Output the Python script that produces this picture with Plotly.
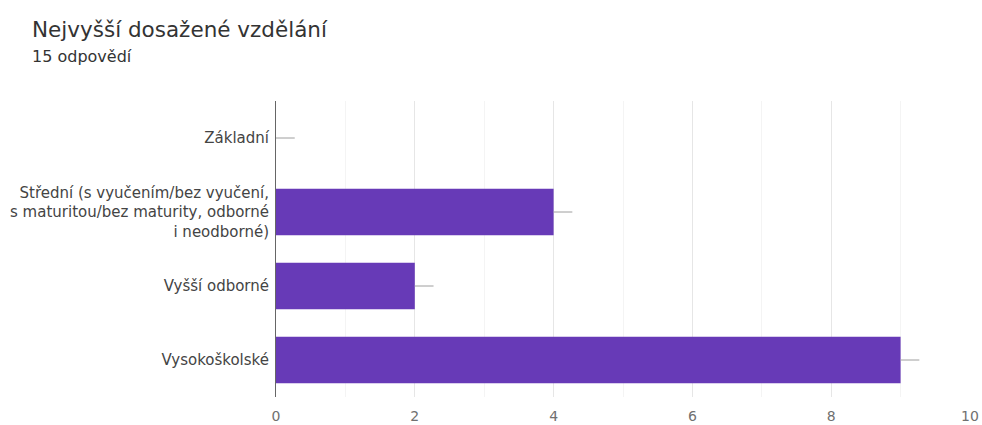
import plotly.graph_objects as go

categories = [
    "Základní",
    "Střední (s vyučením/bez vyučení,<br>s maturitou/bez maturity, odborné<br>i neodborné)",
    "Vyšší odborné",
    "Vysokoškolské",
]
counts = [0, 4, 2, 9]
tick_values = [0, 2, 4, 6, 8, 10]

FONT = "DejaVu Sans, Arial, sans-serif"
W, H = 982, 425
L, R, T, B = 276, 12, 101, 28
PW, PH = W - L - R, H - T - B

fig = go.Figure()
fig.add_trace(go.Bar(
    y=categories,
    x=counts,
    orientation="h",
    marker=dict(color="#673ab7", line=dict(width=0)),
    error_x=dict(type="data", symmetric=False, array=[0.27] * len(counts),
                 arrayminus=[0] * len(counts), width=0, thickness=1, color="#9e9e9e"),
    hoverinfo="x+y",
))

fig.update_layout(
    width=W, height=H,
    margin=dict(l=L, r=R, t=T, b=B, autoexpand=False),
    paper_bgcolor="white", plot_bgcolor="white",
    bargap=0.37,
    showlegend=False,
    font=dict(family=FONT, size=15, color="#444"),
    annotations=[
        dict(text="Nejvyšší dosažené vzdělání", xref="paper", yref="paper",
             x=(30 - L) / PW, y=1 + (T - 29) / PH, xanchor="left", yanchor="middle",
             showarrow=False, font=dict(size=21.5, color="#333", family=FONT)),
        dict(text="15 odpovědí", xref="paper", yref="paper",
             x=(30 - L) / PW, y=1 + (T - 57) / PH, xanchor="left", yanchor="middle",
             showarrow=False, font=dict(size=16, color="#333", family=FONT)),
    ],
)
fig.update_xaxes(
    range=[0, 10], tickvals=tick_values, showgrid=True, gridcolor="#e6e6e6", gridwidth=1,
    minor=dict(dtick=1, showgrid=True, gridcolor="#f4f4f4"),
    zeroline=False, showline=False, ticks="", ticklabelstandoff=9,
    tickfont=dict(size=14, color="#707070", family=FONT),
    automargin=False, fixedrange=True,
)
fig.update_yaxes(
    categoryorder="array", categoryarray=categories[::-1],
    showline=True, linecolor="#666", linewidth=1, showgrid=False,
    ticks="", ticklabelstandoff=3, tickfont=dict(size=15, color="#444", family=FONT),
    automargin=False, fixedrange=True,
)

fig.write_html(
    "out.html",
    config={"displayModeBar": False},
    post_script="document.body.style.margin='0';document.body.style.overflow='hidden';",
)
